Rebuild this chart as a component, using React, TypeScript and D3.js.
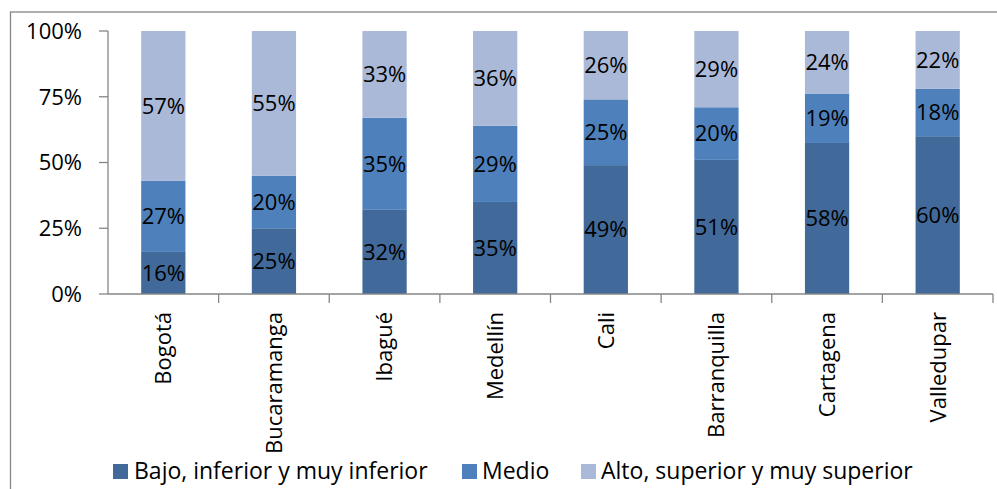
import React from "react";
import * as d3 from "d3";

const categories = ["Bogotá", "Bucaramanga", "Ibagué", "Medellín", "Cali", "Barranquilla", "Cartagena", "Valledupar"];
const seriesNames = ["Bajo, inferior y muy inferior", "Medio", "Alto, superior y muy superior"];
const bajo = [16, 25, 32, 35, 49, 51, 58, 60];
const medio = [27, 20, 35, 29, 25, 20, 19, 18];
const alto = [57, 55, 33, 36, 26, 29, 24, 22];
const yTicks = [0, 0.25, 0.5, 0.75, 1];
const colors = ["#41699A", "#4E80BC", "#AAB9D8"];

const W = 997;
const H = 489;
const margin = { left: 108, right: 4, top: 31, bottom: 195 };
const font = "'Open Sans', sans-serif";

export default function App() {
  const rows = categories.map((c, i) => ({ cat: c, s0: bajo[i], s1: medio[i], s2: alto[i] }));
  const stack = d3.stack<any>().keys(["s0", "s1", "s2"]).offset(d3.stackOffsetExpand);
  const layers = stack(rows);
  const x = d3.scaleBand().domain(categories).range([margin.left, W - margin.right]).paddingInner(0.6).paddingOuter(0.3);
  const xb = d3.scaleBand().domain(categories).range([margin.left, W - margin.right]);
  const y = d3.scaleLinear().domain([0, 1]).range([H - margin.bottom, margin.top]);
  const raw = [bajo, medio, alto];
  const axisColor = "#868686";
  const y0 = y(0);

  const legendItems = [
    { sq: 113, tx: 134 },
    { sq: 462, tx: 482 },
    { sq: 581, tx: 601 },
  ];

  return (
    <svg width={W} height={H} style={{ position: "absolute", left: 0, top: 0, background: "#fff" }}>
      <rect x={10.5} y={12} width={1100} height={600} fill="#fff" stroke={axisColor} strokeWidth={1.3} />
      {layers.map((layer, li) =>
        layer.map((d, i) => (
          <rect
            key={`${li}-${i}`}
            x={x(categories[i])!}
            width={x.bandwidth()}
            y={y(d[1])}
            height={y(d[0]) - y(d[1])}
            fill={colors[li]}
          />
        ))
      )}
      {layers.map((layer, li) =>
        layer.map((d, i) => (
          <text
            key={`t${li}-${i}`}
            x={x(categories[i])! + x.bandwidth() / 2}
            y={(y(d[0]) + y(d[1])) / 2}
            dy="0.36em"
            textAnchor="middle"
            fontFamily={font}
            fontSize={22}
            fill="#000"
          >
            {raw[li][i]}%
          </text>
        ))
      )}
      {/* y axis */}
      <line x1={margin.left} x2={margin.left} y1={y(1)} y2={y0} stroke={axisColor} strokeWidth={1.3} />
      {yTicks.map((t) => (
        <g key={t}>
          <line x1={margin.left - 9} x2={margin.left} y1={y(t)} y2={y(t)} stroke={axisColor} strokeWidth={1.3} />
          <text x={margin.left - 26} y={y(t)} dy="0.36em" textAnchor="end" fontFamily={font} fontSize={22} fill="#000">
            {d3.format(".0%")(t)}
          </text>
        </g>
      ))}
      {/* x axis */}
      <line x1={margin.left} x2={W - margin.right} y1={y0} y2={y0} stroke={axisColor} strokeWidth={1.3} />
      {categories.map((c) => (
        <line key={"tk" + c} x1={xb(c)! + xb.bandwidth()} x2={xb(c)! + xb.bandwidth()} y1={y0} y2={y0 + 9} stroke={axisColor} strokeWidth={1.3} />
      ))}
      {categories.map((c) => {
        const cx = xb(c)! + xb.bandwidth() / 2;
        const ty = 312;
        return (
          <text
            key={"l" + c}
            transform={`translate(${cx},${ty}) rotate(-90)`}
            dy="0.36em"
            textAnchor="end"
            fontFamily={font}
            fontSize={22}
            fill="#000"
          >
            {c}
          </text>
        );
      })}
      {/* legend */}
      {seriesNames.map((s, i) => (
        <g key={s}>
          <rect x={legendItems[i].sq} y={464} width={15} height={15} fill={colors[i]} />
          <text x={legendItems[i].tx} y={479} fontFamily={font} fontSize={23} fill="#000">
            {s}
          </text>
        </g>
      ))}
    </svg>
  );
}
